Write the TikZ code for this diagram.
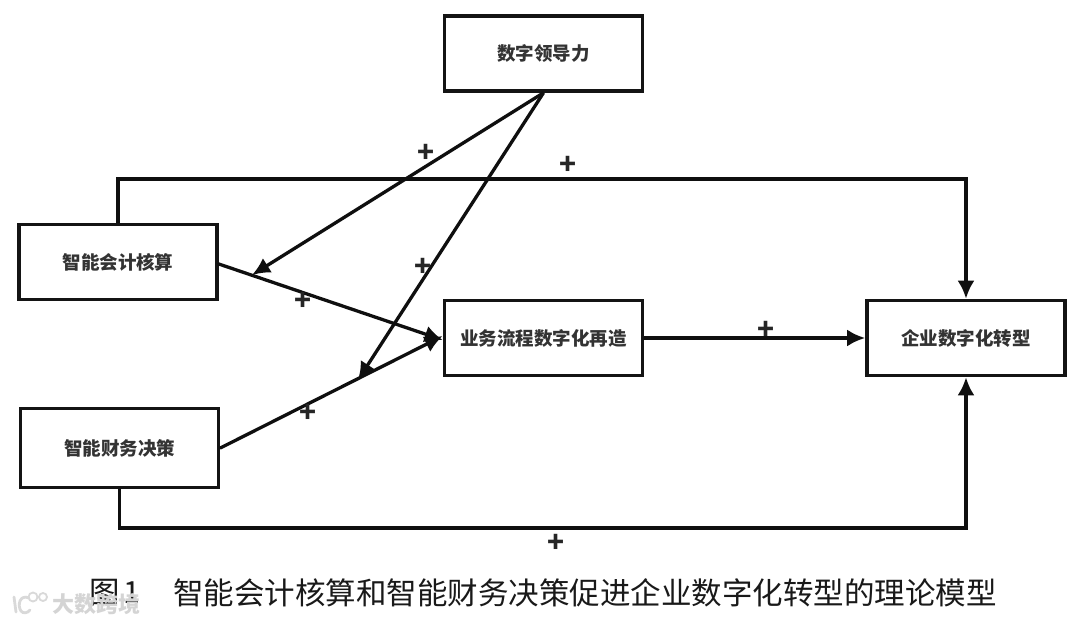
\documentclass[tikz,border=0pt]{standalone}
\usepackage{fontspec}
\setmainfont{Noto Sans CJK SC}
\usetikzlibrary{arrows.meta,calc}
\tikzset{
 x=1pt,y=-1pt,
 boxnode/.style={draw=black!92,line width=3.6pt,minimum width=198pt,minimum height=75pt,inner sep=0pt,font=\fontsize{18.5pt}{20pt}\selectfont\bfseries,text=black!80},
 conn/.style={draw=black!94,line width=3.3pt,-{Latex[length=18pt,width=17pt]}},
 plusnode/.style={inner sep=0pt,font=\fontsize{28pt}{30pt}\selectfont\bfseries,text=black!85},
 titlenode/.style={inner sep=0pt,anchor=west,font=\fontsize{30.5pt}{33pt}\selectfont,text=black!90},
 marknode/.style={inner sep=0pt,anchor=west,font=\fontsize{22pt}{24pt}\selectfont\bfseries,text=black!17},
 logoline/.style={draw=black!15,line width=2.8pt,line cap=round}
}
\begin{document}
\begin{tikzpicture}
\useasboundingbox (0,0) rectangle (1080,624);
\fill[white] (0,0) rectangle (1080,624);
\node[boxnode] (lead) at (543.5,53.5) {数字领导力};
\node[boxnode] (acct) at (118,262) {智能会计核算};
\node[boxnode,minimum height=79pt] (fin) at (119.5,448) {智能财务决策};
\node[boxnode] (proc) at (543.5,338) {业务流程数字化再造};
\node[boxnode] (ent) at (966,338) {企业数字化转型};
\coordinate (tA) at (252,275);
\coordinate (tB) at (358,380);
\coordinate (pIn1) at (proc.west |- 0,340);
\coordinate (pIn2) at (proc.west |- 0,336);
\draw[conn,line cap=round] (acct.east |- 0,264) -- (pIn1);
\draw[conn,line cap=round] (fin.east |- 0,448) -- (pIn2);
\draw[conn] (lead.south) -- (tA);
\draw[conn] (lead.south) -- (tB);
\draw[conn] (proc.east) -- (ent.west);
\draw[conn] (acct.north) |- (560,179) -| (ent.north);
\draw[conn] (fin.south) |- (560,528) -| (ent.south);
\node[plusnode] (p1) at (426,153.5) {+};
\node[plusnode] (p2) at (568,165.5) {+};
\node[plusnode] (p3) at (423,267) {+};
\node[plusnode] (p4) at (303,301.5) {+};
\node[plusnode] (p5) at (308,413.5) {+};
\node[plusnode] (p6) at (766,330.5) {+};
\node[plusnode] (p7) at (556,543.5) {+};
\node[titlenode] (t0) at (89,593) {图\hspace{4pt}1};
\node[titlenode] (t1) at (173,593) {智能会计核算和智能财务决策促进企业数字化转型的理论模型};
\draw[logoline] (14,597) -- (16,612) (29,598) .. controls (20,594) and (17,605) .. (21,611) .. controls (23,614) and (28,613) .. (30,610);
\draw[logoline,line width=1.8pt] (33,597) circle (4.5) (43,597) circle (4);
\node[marknode] (wm) at (52,604) {大数跨境};
\end{tikzpicture}
\end{document}
